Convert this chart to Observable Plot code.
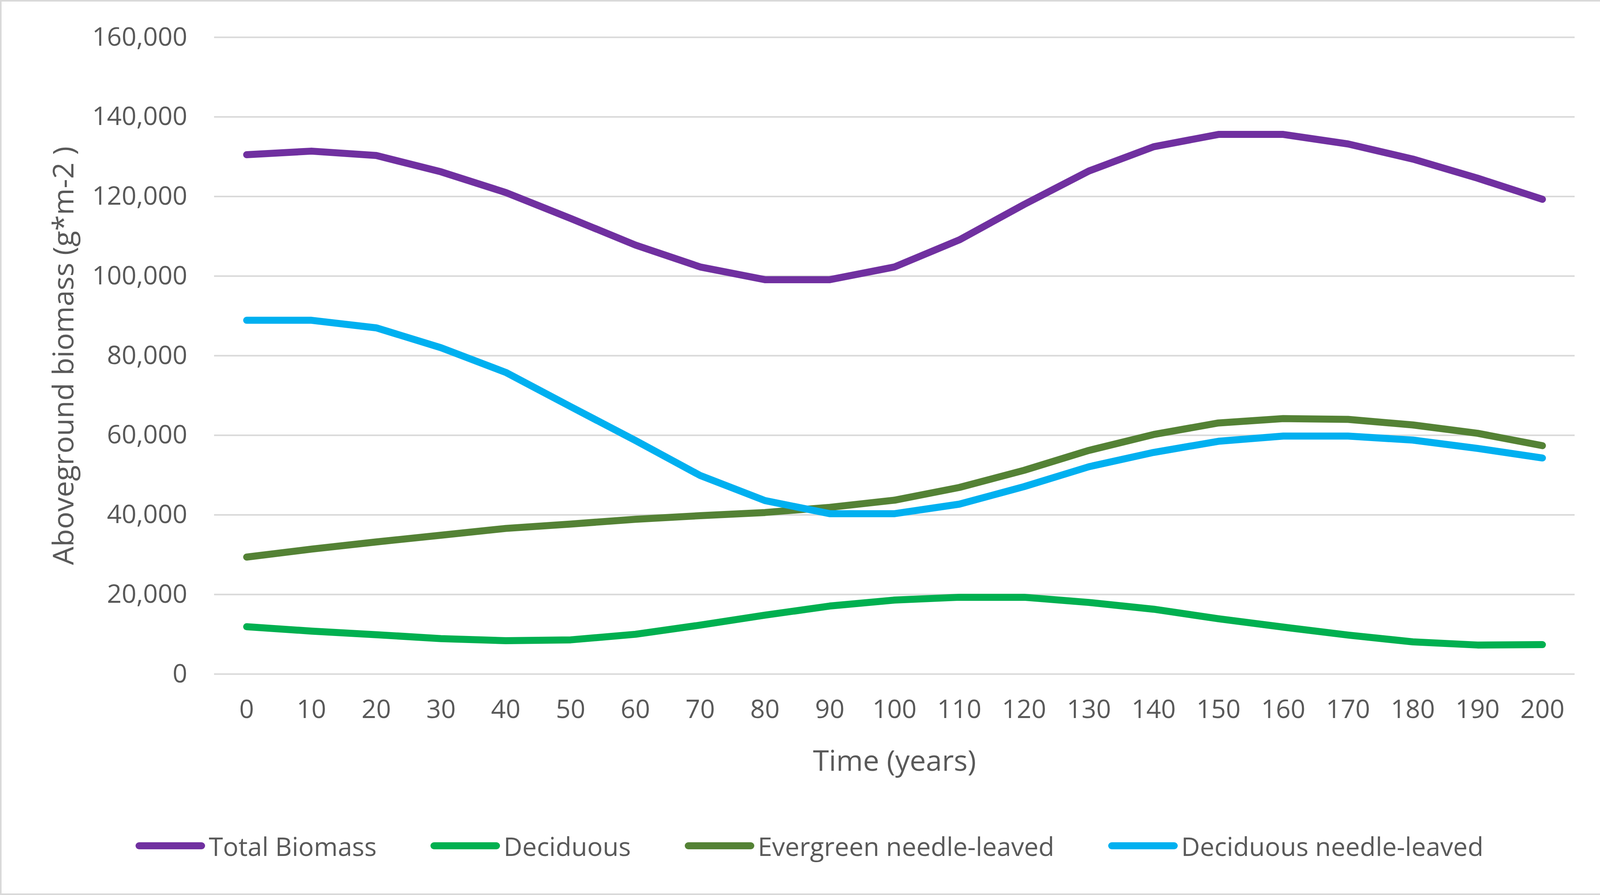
<!DOCTYPE html>
<html>
<head>
<meta charset="utf-8">
<script src="https://cdn.jsdelivr.net/npm/d3@7"></script>
<script src="https://cdn.jsdelivr.net/npm/@observablehq/plot@0.6"></script>
<style>
  html, body { margin: 0; padding: 0; background: #ffffff; }
  #page { position: relative; width: 4124px; height: 2291px; overflow: hidden; background: #ffffff; font-family: 'Open Sans', sans-serif; color: #595959; }
  #frame { position: absolute; left: 0; top: 0; width: 4124px; height: 2291px; box-sizing: border-box; border: 4px solid #d9d9d9; border-right-width: 11px; pointer-events: none; }
  #chart svg { display: block; }
  #legend { height: 210px; display: flex; align-items: center; justify-content: center; padding-left: 21px; font-size: 66px; color: #595959; }
  .item { display: flex; align-items: center; margin-right: 138px; }
  .item:last-child { margin-right: 0; }
  .sw { width: 178px; height: 18px; border-radius: 9px; margin-right: 9px; }
</style>
</head>
<body>
<div id="page">
  <div id="chart"></div>
  <div id="legend"></div>
  <div id="frame"></div>
</div>
<script>
const years = [0, 10, 20, 30, 40, 50, 60, 70, 80, 90, 100, 110, 120, 130, 140, 150, 160, 170, 180, 190, 200];
const totalBiomass = [130500, 131400, 130300, 126200, 121000, 114500, 107800, 102300, 99100, 99100, 102300, 109100, 118000, 126400, 132500, 135600, 135600, 133200, 129400, 124600, 119300];
const deciduous = [11900, 10800, 9900, 8900, 8400, 8600, 10000, 12300, 14800, 17100, 18600, 19300, 19300, 18000, 16300, 13900, 11800, 9800, 8100, 7300, 7400];
const evergreenNeedle = [29400, 31400, 33200, 34900, 36600, 37700, 38900, 39800, 40600, 41900, 43700, 46900, 51200, 56200, 60200, 63100, 64200, 64000, 62600, 60500, 57400];
const deciduousNeedle = [88900, 88900, 87000, 82000, 75800, 67200, 58700, 49900, 43600, 40300, 40300, 42700, 47100, 52100, 55700, 58500, 59800, 59800, 58800, 56700, 54300];

const seriesNames = ["Total Biomass", "Deciduous", "Evergreen needle-leaved", "Deciduous needle-leaved"];
const seriesColors = ["#7030A0", "#00B050", "#548235", "#00B0F0"];
const seriesValues = [totalBiomass, deciduous, evergreenNeedle, deciduousNeedle];
const yTicks = [0, 20000, 40000, 60000, 80000, 100000, 120000, 140000, 160000];
const xLabel = "Time (years)";
const yLabel = "Aboveground biomass (g*m-2 )";

const rows = [];
seriesNames.forEach((name, i) => {
  years.forEach((yr, j) => rows.push({series: name, year: yr, value: seriesValues[i][j]}));
});

const fmt = d3.format(",");

const chart = Plot.plot({
  width: 4124,
  height: 2060,
  marginLeft: 548,
  marginRight: 93,
  marginTop: 95,
  marginBottom: 335,
  style: {fontFamily: "'Open Sans', sans-serif", fontSize: "66px", color: "#595959", background: "transparent", overflow: "visible"},
  x: {domain: [-5, 205]},
  y: {domain: [0, 160000]},
  color: {domain: seriesNames, range: seriesColors},
  marks: [
    Plot.gridY(yTicks, {stroke: "#d9d9d9", strokeOpacity: 1, strokeWidth: 4}),
    Plot.axisY(yTicks, {tickSize: 0, tickPadding: 69, tickFormat: fmt, label: null, fontSize: 66}),
    Plot.axisY([], {tickSize: 0, label: yLabel, labelAnchor: "center", labelArrow: "none", labelOffset: 413, fontSize: 74}),
    Plot.axisX(years, {tickSize: 0, tickPadding: 66, tickFormat: d => String(d), label: null, fontSize: 66}),
    Plot.axisX([], {tickSize: 0, label: xLabel, labelAnchor: "center", labelArrow: "none", labelOffset: 247, fontSize: 74}),
    Plot.line(rows, {x: "year", y: "value", z: "series", stroke: "series", strokeWidth: 18, strokeLinejoin: "round", strokeLinecap: "round"})
  ]
});
document.getElementById("chart").appendChild(chart);

const legend = document.getElementById("legend");
seriesNames.forEach((name, i) => {
  const item = document.createElement("div");
  item.className = "item";
  const sw = document.createElement("div");
  sw.className = "sw";
  sw.style.background = seriesColors[i];
  const label = document.createElement("span");
  label.textContent = name;
  item.appendChild(sw);
  item.appendChild(label);
  legend.appendChild(item);
});
</script>
</body>
</html>
